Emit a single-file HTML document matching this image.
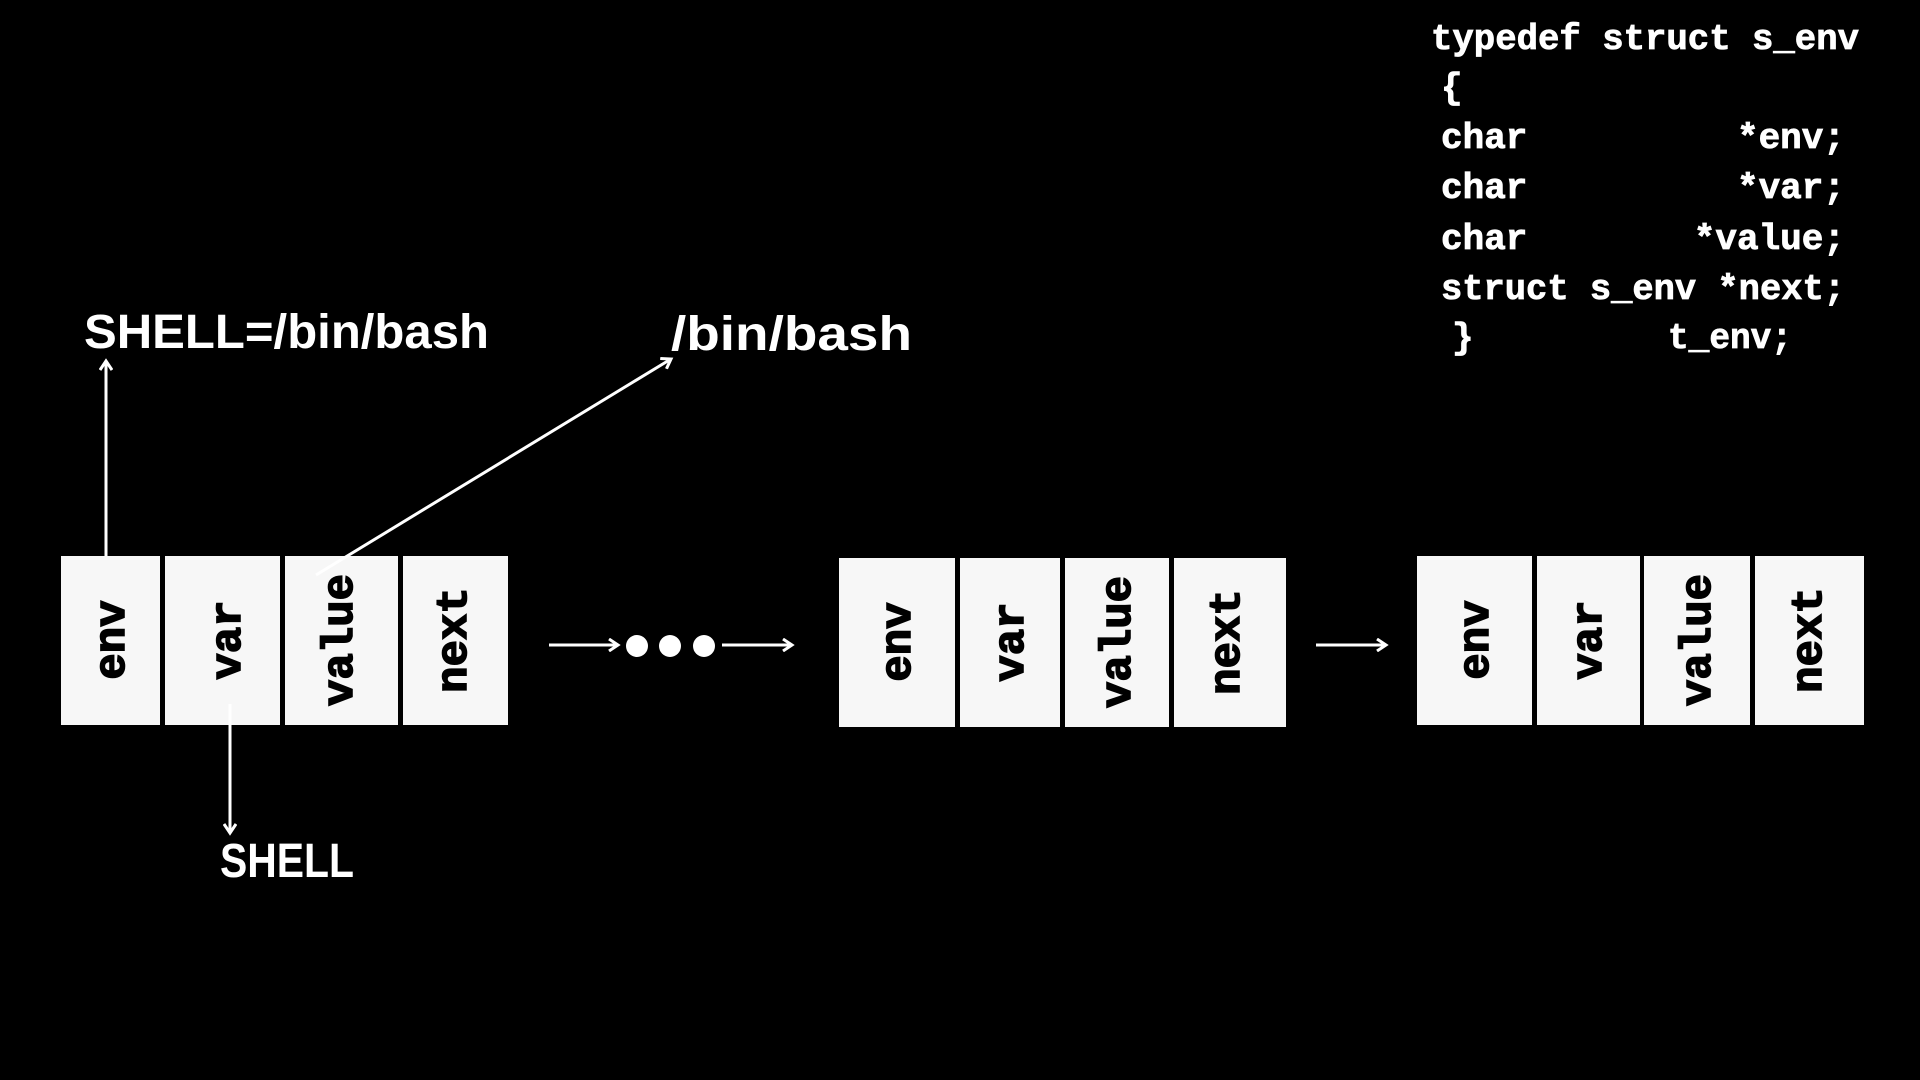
<!DOCTYPE html>
<html><head><meta charset="utf-8"><style>
html,body{margin:0;padding:0;background:#000;width:1920px;height:1080px;overflow:hidden}
.pre{white-space:pre}
</style></head><body>
<svg width="1920" height="1080" viewBox="0 0 1920 1080" xmlns="http://www.w3.org/2000/svg">
<rect width="1920" height="1080" fill="#000"/>
<defs>
<marker id="ah" markerWidth="14" markerHeight="14" refX="11" refY="7" orient="auto" markerUnits="userSpaceOnUse">
<path d="M2,1 L11,7 L2,13" fill="none" stroke="#fff" stroke-width="3"/>
</marker>
</defs>
<g fill="#f7f7f7">
<rect x="61" y="556" width="99" height="169"/><rect x="165" y="556" width="115" height="169"/><rect x="285" y="556" width="113" height="169"/><rect x="403" y="556" width="105" height="169"/>
<rect x="839" y="558" width="116" height="169"/><rect x="960" y="558" width="100" height="169"/><rect x="1065" y="558" width="104" height="169"/><rect x="1174" y="558" width="112" height="169"/>
<rect x="1417" y="556" width="115" height="169"/><rect x="1537" y="556" width="103" height="169"/><rect x="1644" y="556" width="106" height="169"/><rect x="1755" y="556" width="109" height="169"/>
</g>
<g font-family="Liberation Mono, monospace" font-weight="bold" font-size="44" fill="#000" stroke="#000" stroke-width="1.6" text-anchor="middle">
<text transform="translate(111,640) rotate(-90)" dy="13">env</text>
<text transform="translate(227,640) rotate(-90)" dy="13">var</text>
<text transform="translate(339,640) rotate(-90)" dy="13">value</text>
<text transform="translate(453,640) rotate(-90)" dy="13">next</text>
<text transform="translate(897,642) rotate(-90)" dy="13">env</text>
<text transform="translate(1010,642) rotate(-90)" dy="13">var</text>
<text transform="translate(1117,642) rotate(-90)" dy="13">value</text>
<text transform="translate(1226,642) rotate(-90)" dy="13">next</text>
<text transform="translate(1475,640) rotate(-90)" dy="13">env</text>
<text transform="translate(1588,640) rotate(-90)" dy="13">var</text>
<text transform="translate(1697,640) rotate(-90)" dy="13">value</text>
<text transform="translate(1808,640) rotate(-90)" dy="13">next</text>
</g>
<g stroke="#fff" stroke-width="3" fill="none">
<line x1="106" y1="556" x2="106" y2="361" marker-end="url(#ah)"/>
<line x1="316" y1="575" x2="671" y2="359" marker-end="url(#ah)"/>
<line x1="230" y1="704" x2="230" y2="833" marker-end="url(#ah)"/>
<line x1="549" y1="645" x2="618" y2="645" marker-end="url(#ah)"/>
<line x1="722" y1="645" x2="792" y2="645" marker-end="url(#ah)"/>
<line x1="1316" y1="645" x2="1386" y2="645" marker-end="url(#ah)"/>
</g>
<g fill="#fff"><circle cx="637" cy="646" r="11"/><circle cx="670" cy="646" r="11"/><circle cx="704" cy="646" r="11"/></g>
<g font-family="Liberation Sans, sans-serif" font-weight="bold" font-size="48" fill="#fff">
<text x="84" y="348" textLength="405" lengthAdjust="spacingAndGlyphs">SHELL=/bin/bash</text>
<text x="671" y="350" textLength="241" lengthAdjust="spacingAndGlyphs">/bin/bash</text>
<text x="220" y="877" textLength="134" lengthAdjust="spacingAndGlyphs">SHELL</text>
</g>
<g font-family="Liberation Mono, monospace" font-weight="bold" font-size="36" fill="#fff" stroke="#fff" stroke-width="0.8">
<text x="1431" y="49" textLength="428" lengthAdjust="spacingAndGlyphs">typedef struct s_env</text>
<text x="1441" y="98">{</text>
<text x="1441" y="148">char</text><text x="1845" y="148" text-anchor="end">*env;</text>
<text x="1441" y="198">char</text><text x="1845" y="198" text-anchor="end">*var;</text>
<text x="1441" y="249">char</text><text x="1845" y="249" text-anchor="end">*value;</text>
<text x="1441" y="299" textLength="404" lengthAdjust="spacingAndGlyphs" class="pre">struct s_env *next;</text>
<text x="1452" y="348">}</text>
<text x="1668" y="348" textLength="124" lengthAdjust="spacingAndGlyphs">t_env;</text>
</g>
</svg>
</body></html>
